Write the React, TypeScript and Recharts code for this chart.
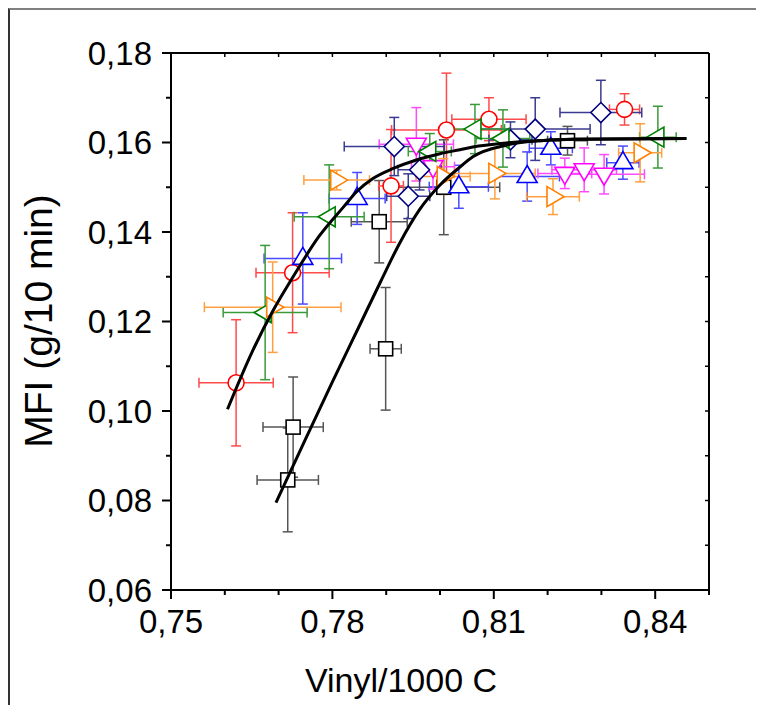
import { ScatterChart, Scatter, XAxis, YAxis, ErrorBar } from 'recharts'

const FONT = '"Liberation Sans", Arial, sans-serif'

const X_TICKS = [0.75, 0.76, 0.77, 0.78, 0.79, 0.8, 0.81, 0.82, 0.83, 0.84, 0.85]
const X_MAJOR = [0.75, 0.78, 0.81, 0.84]
const Y_TICKS = [0.06, 0.07, 0.08, 0.09, 0.1, 0.11, 0.12, 0.13, 0.14, 0.15, 0.16, 0.17, 0.18]
const Y_MAJOR = [0.06, 0.08, 0.1, 0.12, 0.14, 0.16, 0.18]

// x, y, ex (± x error), ey (± y error)
const squares = [
  { x: 0.7717, y: 0.0846, ex: 0.0057, ey: 0.0116 },
  { x: 0.7727, y: 0.0964, ex: 0.0056, ey: 0.0112 },
  { x: 0.7887, y: 0.1423, ex: 0.0052, ey: 0.0092 },
  { x: 0.7899, y: 0.1139, ex: 0.0029, ey: 0.0137 },
  { x: 0.8007, y: 0.1500, ex: 0.0104, ey: 0.0106 },
  { x: 0.8237, y: 0.1604, ex: 0.0037, ey: 0.0032 },
]
const circles = [
  { x: 0.7621, y: 0.1063, ex: 0.0069, ey: 0.0141 },
  { x: 0.7726, y: 0.1309, ex: 0.0068, ey: 0.0134 },
  { x: 0.7909, y: 0.1503, ex: 0.0023, ey: 0.0126 },
  { x: 0.8012, y: 0.1628, ex: 0.0102, ey: 0.0127 },
  { x: 0.8091, y: 0.1652, ex: 0.0069, ey: 0.0048 },
  { x: 0.8343, y: 0.1674, ex: 0.0028, ey: 0.0035 },
]
const trisUp = [
  { x: 0.7745, y: 0.1341, ex: 0.0072, ey: 0.0102 },
  { x: 0.7846, y: 0.1475, ex: 0.0052, ey: 0.0058 },
  { x: 0.8035, y: 0.1501, ex: 0.0055, ey: 0.0048 },
  { x: 0.8162, y: 0.1524, ex: 0.006, ey: 0.0055 },
  { x: 0.8206, y: 0.1587, ex: 0.004, ey: 0.0037 },
  { x: 0.834, y: 0.1555, ex: 0.003, ey: 0.0037 },
]
const trisDown = [
  { x: 0.7956, y: 0.1596, ex: 0.0069, ey: 0.0082 },
  { x: 0.7987, y: 0.1546, ex: 0.004, ey: 0.005 },
  { x: 0.8232, y: 0.1531, ex: 0.005, ey: 0.0034 },
  { x: 0.8268, y: 0.1539, ex: 0.006, ey: 0.0049 },
  { x: 0.8305, y: 0.1529, ex: 0.0075, ey: 0.0044 },
]
const diamonds = [
  { x: 0.7915, y: 0.1591, ex: 0.0093, ey: 0.0065 },
  { x: 0.7941, y: 0.148, ex: 0.004, ey: 0.005 },
  { x: 0.7962, y: 0.1539, ex: 0.004, ey: 0.0045 },
  { x: 0.8131, y: 0.1606, ex: 0.004, ey: 0.004 },
  { x: 0.8177, y: 0.163, ex: 0.0102, ey: 0.007 },
  { x: 0.8299, y: 0.1667, ex: 0.0076, ey: 0.0072 },
]
const trisLeft = [
  { x: 0.7675, y: 0.122, ex: 0.0078, ey: 0.015 },
  { x: 0.7794, y: 0.1434, ex: 0.0065, ey: 0.0116 },
  { x: 0.7981, y: 0.158, ex: 0.004, ey: 0.004 },
  { x: 0.8065, y: 0.163, ex: 0.0055, ey: 0.0055 },
  { x: 0.8117, y: 0.1609, ex: 0.005, ey: 0.0064 },
  { x: 0.8405, y: 0.1612, ex: 0.0034, ey: 0.0069 },
]
const trisRight = [
  { x: 0.7689, y: 0.1232, ex: 0.0127, ey: 0.0101 },
  { x: 0.7808, y: 0.1516, ex: 0.0061, ey: 0.0022 },
  { x: 0.8006, y: 0.1524, ex: 0.005, ey: 0.004 },
  { x: 0.8102, y: 0.1531, ex: 0.0075, ey: 0.0057 },
  { x: 0.821, y: 0.1479, ex: 0.0049, ey: 0.004 },
  { x: 0.8372, y: 0.1577, ex: 0.004, ey: 0.0065 },
]

// fitted curves
const fitA = [
  { x: 0.7605, y: 0.1004 }, { x: 0.765, y: 0.113 }, { x: 0.769, y: 0.1225 },
  { x: 0.7727, y: 0.13 }, { x: 0.7775, y: 0.139 }, { x: 0.782, y: 0.1455 },
  { x: 0.7845, y: 0.149 }, { x: 0.7876, y: 0.152 }, { x: 0.7913, y: 0.1542 },
  { x: 0.7956, y: 0.1561 }, { x: 0.8, y: 0.1575 }, { x: 0.8037, y: 0.1584 },
  { x: 0.8061, y: 0.159 }, { x: 0.8123, y: 0.1599 }, { x: 0.8186, y: 0.1604 },
  { x: 0.8247, y: 0.1607 }, { x: 0.8458, y: 0.1609 },
]
const fitB = [
  { x: 0.7695, y: 0.0795 }, { x: 0.775, y: 0.0937 }, { x: 0.78, y: 0.1065 },
  { x: 0.785, y: 0.119 }, { x: 0.789, y: 0.129 }, { x: 0.7925, y: 0.1375 },
  { x: 0.7962, y: 0.145 }, { x: 0.8, y: 0.1505 }, { x: 0.8037, y: 0.1545 },
  { x: 0.8061, y: 0.1568 }, { x: 0.8123, y: 0.1594 }, { x: 0.8186, y: 0.1604 },
  { x: 0.8247, y: 0.1607 }, { x: 0.8458, y: 0.1609 },
]

const isMajor = (v: number, list: number[]) => list.some(m => Math.abs(m - v) < 1e-6)
const fmt = (v: number) => v.toFixed(2).replace('.', ',')

const marker = (kind: string, color: string) => (p: any) => {
  const { cx, cy } = p
  const s = { fill: '#fff', stroke: color, strokeWidth: 1.6 }
  if (kind === 'square') return <rect x={cx - 7} y={cy - 7} width={14} height={14} {...s} />
  if (kind === 'circle') return <circle cx={cx} cy={cy} r={8} {...s} />
  if (kind === 'up') return <polygon points={`${cx},${cy - 11} ${cx + 10},${cy + 6} ${cx - 10},${cy + 6}`} {...s} />
  if (kind === 'down') return <polygon points={`${cx},${cy + 11} ${cx - 10},${cy - 6} ${cx + 10},${cy - 6}`} {...s} />
  if (kind === 'left') return <polygon points={`${cx - 11},${cy} ${cx + 6},${cy - 10} ${cx + 6},${cy + 10}`} {...s} />
  if (kind === 'right') return <polygon points={`${cx + 11},${cy} ${cx - 6},${cy - 10} ${cx - 6},${cy + 10}`} {...s} />
  return <polygon points={`${cx},${cy - 10} ${cx + 10},${cy} ${cx},${cy + 10} ${cx - 10},${cy}`} {...s} />
}

const BottomTick = ({ x, y, payload }: any) => {
  const major = isMajor(payload.value, X_MAJOR)
  return (
    <g>
      <line x1={x} x2={x} y1={y} y2={y + (major ? 9 : 5)} stroke="#000" strokeWidth={2} />
      {major && (
        <text x={x} y={y + 43} textAnchor="middle" fontSize={33} fontFamily={FONT} fill="#000">
          {fmt(payload.value)}
        </text>
      )}
    </g>
  )
}
const LeftTick = ({ x, y, payload }: any) => {
  const major = isMajor(payload.value, Y_MAJOR)
  return (
    <g>
      <line x1={x - (major ? 9 : 5)} x2={x} y1={y} y2={y} stroke="#000" strokeWidth={2} />
      {major && (
        <text x={x - 19} y={y} dy="0.36em" textAnchor="end" fontSize={33} fontFamily={FONT} fill="#000">
          {fmt(payload.value)}
        </text>
      )}
    </g>
  )
}
const TopTick = ({ x, y }: any) => <line x1={x} x2={x} y1={y} y2={y + 4} stroke="#000" strokeWidth={1.5} />
const RightTick = ({ x, y }: any) => <line x1={x - 4} x2={x} y1={y} y2={y} stroke="#000" strokeWidth={1.5} />

const SERIES = [
  { data: squares, kind: 'square', color: '#000000', bar: '#555555' },
  { data: circles, kind: 'circle', color: '#ff0000', bar: '#ff4a4a' },
  { data: trisUp, kind: 'up', color: '#0000ff', bar: '#4a4aff' },
  { data: trisDown, kind: 'down', color: '#ff00ff', bar: '#ff4aff' },
  { data: diamonds, kind: 'diamond', color: '#000080', bar: '#3a3a90' },
  { data: trisLeft, kind: 'left', color: '#008000', bar: '#3a9a3a' },
  { data: trisRight, kind: 'right', color: '#ff8000', bar: '#ffa040' },
]

const W = 748
const H = 697

export default function App() {
  return (
    <div style={{ position: 'relative', width: W, height: H, overflow: 'hidden' }}>
      <div style={{ position: 'absolute', left: 0, top: 0, width: W + 10, height: H + 10,
        borderLeft: '2px solid #333', borderTop: '2px solid #808080' }} />
      <div style={{ position: 'absolute', left: 0, top: 0 }}>
        <ScatterChart width={W} height={H} margin={{ top: 44, right: 46, bottom: 0, left: 0 }}>
          <XAxis xAxisId="x" dataKey="x" type="number" domain={[0.75, 0.85]} allowDataOverflow
            ticks={X_TICKS} interval={0} height={115} tickSize={0} tickMargin={0}
            tick={<BottomTick />} axisLine={{ stroke: '#000', strokeWidth: 2 }} tickLine={false} />
          <XAxis xAxisId="xt" dataKey="x" type="number" orientation="top" domain={[0.75, 0.85]} allowDataOverflow
            ticks={X_TICKS} interval={0} height={1} tickSize={0} tickMargin={0}
            tick={<TopTick />} axisLine={{ stroke: '#000', strokeWidth: 2 }} tickLine={false} />
          <YAxis yAxisId="y" dataKey="y" type="number" domain={[0.06, 0.18]} allowDataOverflow
            ticks={Y_TICKS} interval={0} width={163} tickSize={0} tickMargin={0}
            tick={<LeftTick />} axisLine={{ stroke: '#000', strokeWidth: 2 }} tickLine={false} />
          <YAxis yAxisId="yr" dataKey="y" type="number" orientation="right" domain={[0.06, 0.18]} allowDataOverflow
            ticks={Y_TICKS} interval={0} width={1} tickSize={0} tickMargin={0}
            tick={<RightTick />} axisLine={{ stroke: '#000', strokeWidth: 2 }} tickLine={false} />
          {SERIES.map((s, i) => (
            <Scatter key={i} data={s.data} xAxisId="x" yAxisId="y" shape={marker(s.kind, s.color)}
              isAnimationActive={false}>
              <ErrorBar dataKey="ex" direction="x" width={5} stroke={s.bar} strokeWidth={1.5} />
              <ErrorBar dataKey="ey" direction="y" width={5} stroke={s.bar} strokeWidth={1.5} />
            </Scatter>
          ))}
          <Scatter data={fitA} xAxisId="xt" yAxisId="yr" line={{ stroke: '#000', strokeWidth: 3 }}
            lineType="joint" lineJointType="monotoneX" shape={() => <g />} isAnimationActive={false} />
          <Scatter data={fitB} xAxisId="xt" yAxisId="yr" line={{ stroke: '#000', strokeWidth: 3 }}
            lineType="joint" lineJointType="monotoneX" shape={() => <g />} isAnimationActive={false} />
        </ScatterChart>
      </div>
      <svg width={W} height={H} style={{ position: 'absolute', left: 0, top: 0, pointerEvents: 'none' }}>
        <text x={393} y={684} textAnchor="middle" fontSize={34} fontFamily={FONT} fill="#000">Vinyl/1000 C</text>
        <text transform="rotate(-90)" x={-313} y={44} textAnchor="middle" fontSize={39} fontFamily={FONT} fill="#000">
          MFI (g/10 min)
        </text>
      </svg>
    </div>
  )
}
